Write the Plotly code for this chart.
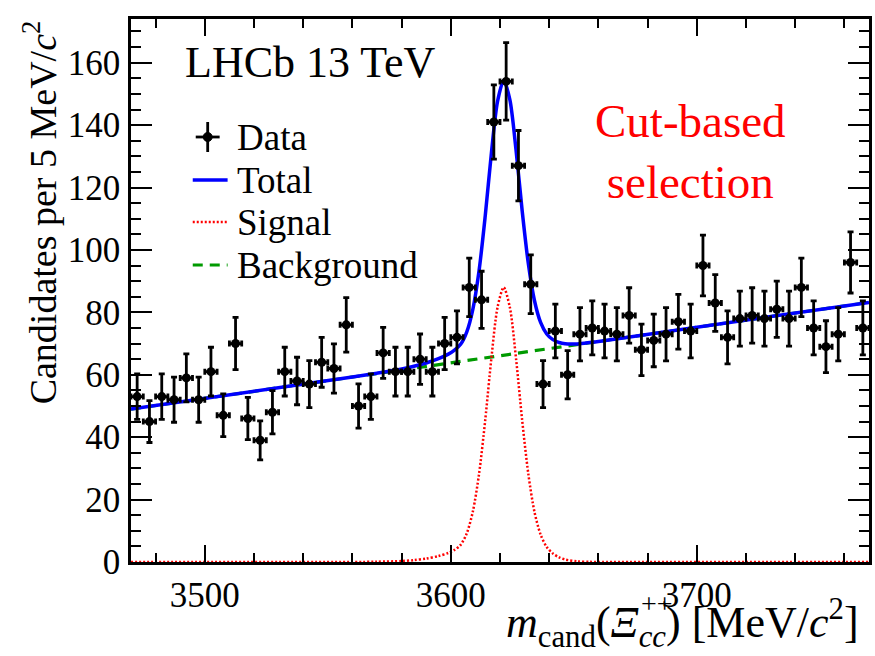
import numpy as np
import plotly.graph_objects as go

# ---------------- data ----------------
bin_centers = [3472.5 + 5 * i for i in range(60)]
counts = [53, 45, 53, 52, 59, 52, 61, 47, 70, 46,
          39, 48, 61, 58, 57, 64, 62, 76, 50, 53,
          67, 61, 61, 65, 61, 70, 72, 88, 84, 141,
          154, 127, 89, 57, 74, 60, 73, 75, 74, 73,
          79, 68, 71, 73, 77, 74, 95, 83, 72, 78,
          79, 78, 81, 78, 88, 75, 69, 73, 96, 75]

# fit components
bg_x = [3470.0, 3770.0]
bg_y = [49.0, 83.2]

sig_x = [3470, 3560, 3570, 3580, 3585, 3590, 3595, 3599, 3601.5, 3604,
         3606.5, 3609, 3611.5, 3614, 3616.5, 3619, 3621.5, 3624, 3626.5, 3629,
         3631.5, 3634, 3636.5, 3639, 3641.5, 3644, 3646.5, 3651.5, 3656.5, 3661.5,
         3770]
sig_y = [0, 0, 0.1, 0.3, 0.6, 1.1, 1.9, 2.9, 3.9, 5.5,
         9.2, 16.3, 28.3, 45.5, 65.3, 81.6, 88.0, 81.6, 65.3, 45.5,
         28.3, 16.1, 8.8, 4.8, 2.7, 1.5, 0.8, 0.2, 0.05, 0,
         0]

x_ticks = [3500, 3600, 3700]
y_ticks = [0, 20, 40, 60, 80, 100, 120, 140, 160]

legend_labels = ["Data", "Total", "Signal", "Background"]

# ---------------- derived ----------------
errs = list(np.sqrt(np.array(counts, dtype=float)))
tot_y = list(np.interp(sig_x, bg_x, bg_y) + np.array(sig_y))

FONT = "Liberation Serif"
BLUE = "#0000ff"
RED = "#ff0000"
GREEN = "#009a00"

fig = go.Figure()

fig.add_trace(go.Scatter(x=bg_x, y=bg_y, mode="lines",
                         line=dict(color=GREEN, width=3.2, dash="10px,7px"),
                         showlegend=False, hoverinfo="skip"))
fig.add_trace(go.Scatter(x=sig_x, y=sig_y, mode="lines",
                         line=dict(color=RED, width=2.5, dash="2px,2px",
                                   shape="spline", smoothing=0.8),
                         showlegend=False, hoverinfo="skip"))
fig.add_trace(go.Scatter(x=sig_x, y=tot_y, mode="lines",
                         line=dict(color=BLUE, width=3.5, shape="spline", smoothing=0.8),
                         showlegend=False, hoverinfo="skip"))
fig.add_trace(go.Scatter(x=bin_centers, y=counts, mode="markers",
                         marker=dict(color="black", size=9, symbol="circle"),
                         error_y=dict(type="data", array=errs, color="black",
                                      thickness=2.8, width=3),
                         error_x=dict(type="constant", value=2.5, color="black",
                                      thickness=2.8, width=3),
                         showlegend=False))

# ---------------- plot-area geometry helpers ----------------
L, R, T, B = 131, 872, 19, 562
W, H = 875, 656
def px(xp):
    return (xp - L) / (R - L)
def py(yp):
    return (B - yp) / (B - T)

shapes = []
annotations = []

# legend glyphs
# Data
shapes.append(dict(type="line", xref="paper", yref="paper",
                   x0=px(208), x1=px(208), y0=py(122), y1=py(152),
                   line=dict(color="black", width=2.8)))
shapes.append(dict(type="line", xref="paper", yref="paper",
                   x0=px(196), x1=px(220), y0=py(137), y1=py(137),
                   line=dict(color="black", width=2.8)))
shapes.append(dict(type="circle", xref="paper", yref="paper",
                   x0=px(203.5), x1=px(212.5), y0=py(141.5), y1=py(132.5),
                   fillcolor="black", line=dict(color="black", width=1)))
# Total
shapes.append(dict(type="line", xref="paper", yref="paper",
                   x0=px(193), x1=px(228), y0=py(180), y1=py(180),
                   line=dict(color=BLUE, width=3.5)))
# Signal
shapes.append(dict(type="line", xref="paper", yref="paper",
                   x0=px(193), x1=px(228), y0=py(222), y1=py(222),
                   line=dict(color=RED, width=2.5, dash="2px,2px")))
# Background
shapes.append(dict(type="line", xref="paper", yref="paper",
                   x0=px(193), x1=px(228), y0=py(265), y1=py(265),
                   line=dict(color=GREEN, width=3.2, dash="10px,7px")))

for lab, yp in zip(legend_labels, [137, 180, 222, 265]):
    annotations.append(dict(text=lab, xref="paper", yref="paper",
                            x=px(235), y=py(yp), xanchor="left", yanchor="middle",
                            showarrow=False, font=dict(family=FONT, size=37, color="black")))

annotations.append(dict(text="LHCb 13 TeV", xref="paper", yref="paper",
                        x=px(183), y=py(62), xanchor="left", yanchor="middle",
                        showarrow=False, font=dict(family=FONT, size=44, color="black")))
annotations.append(dict(text="Cut-based<br>selection", xref="paper", yref="paper",
                        x=px(693), y=py(151), xanchor="center", yanchor="middle",
                        align="center", showarrow=False,
                        font=dict(family=FONT, size=47, color=RED)))

# axis titles
annotations.append(dict(text="<i>m</i><sub>cand</sub>(<i>Ξ</i><sub><i>cc</i></sub>) [MeV/<i>c</i><sup>2</sup>]",
                        xref="paper", yref="paper", x=px(864), y=py(623),
                        xanchor="right", yanchor="middle", showarrow=False,
                        font=dict(family=FONT, size=44, color="black")))
annotations.append(dict(text="++", xref="paper", yref="paper", x=px(659), y=py(603),
                        xanchor="center", yanchor="middle", showarrow=False,
                        font=dict(family=FONT, size=28, color="black")))
annotations.append(dict(text="Candidates per 5 MeV/<i>c</i><sup>2</sup>",
                        xref="paper", yref="paper", x=px(40), y=py(18),
                        xanchor="center", yanchor="top", textangle=-90, showarrow=False,
                        font=dict(family=FONT, size=38, color="black")))

fig.update_layout(
    width=W, height=H,
    margin=dict(l=L, r=W - R, t=T, b=H - B, pad=0),
    paper_bgcolor="white", plot_bgcolor="white",
    shapes=shapes, annotations=annotations,
    font=dict(family=FONT, color="black"),
)
fig.update_xaxes(range=[3470, 3770], tickvals=x_ticks, ticktext=[str(v) for v in x_ticks],
                 showgrid=False, zeroline=False, showline=True, linecolor="black", linewidth=2.5,
                 mirror="allticks", ticks="inside", ticklen=17, tickwidth=2, tickcolor="black",
                 minor=dict(ticks="inside", dtick=20, tick0=3460, ticklen=9, tickwidth=2,
                            tickcolor="black", showgrid=False),
                 tickfont=dict(family=FONT, size=35, color="black"), ticklabelstandoff=0)
fig.update_yaxes(range=[0, 174], tickvals=y_ticks, ticktext=[str(v) for v in y_ticks],
                 showgrid=False, zeroline=False, showline=True, linecolor="black", linewidth=2.5,
                 mirror="allticks", ticks="inside", ticklen=21, tickwidth=2, tickcolor="black",
                 minor=dict(ticks="inside", dtick=5, tick0=0, ticklen=10, tickwidth=2,
                            tickcolor="black", showgrid=False),
                 tickfont=dict(family=FONT, size=35, color="black"), ticklabelstandoff=1)

fig.write_html("out.html")
